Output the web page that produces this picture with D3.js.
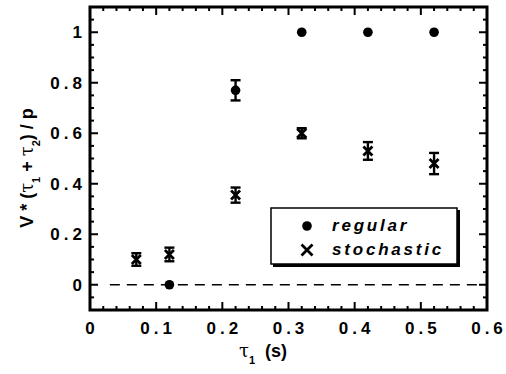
<!DOCTYPE html>
<html>
<head>
<meta charset="utf-8">
<script src="https://cdn.jsdelivr.net/npm/d3@7"></script>
<style>
body { margin: 0; background: #fff; }
svg text { font-family: "Liberation Sans", Arial, sans-serif; font-weight: bold; fill: #000; }
</style>
</head>
<body>
<div class="chart"></div>
<script>
const width = 506, height = 374;
const m = { top: 7, right: 19, bottom: 64, left: 90 };

// data
const regX = [0.12, 0.22, 0.32, 0.42, 0.52];
const regY = [0, 0.77, 1, 1, 1];
const regErr = [0, 0.04, 0, 0, 0];
const stoX = [0.07, 0.12, 0.22, 0.32, 0.42, 0.52];
const stoY = [0.10, 0.12, 0.355, 0.60, 0.53, 0.48];
const stoErr = [0.025, 0.027, 0.03, 0.02, 0.035, 0.042];
const xTicks = [0, 0.1, 0.2, 0.3, 0.4, 0.5, 0.6];
const yTicks = [0, 0.2, 0.4, 0.6, 0.8, 1];
const legendLabels = ["regular", "stochastic"];

const svg = d3.select(".chart").append("svg")
    .attr("width", width).attr("height", height);

const x = d3.scaleLinear().domain([0, 0.6]).range([m.left, width - m.right]);
const y = d3.scaleLinear().domain([-0.1, 1.1]).range([height - m.bottom, m.top]);

const x0 = x.range()[0], x1 = x.range()[1];
const y0 = y.range()[0], y1 = y.range()[1];

// minor ticks
const xMinor = d3.range(0, 0.6001, 0.02);
const yMinor = d3.range(-0.1, 1.1001, 0.05);

const tk = svg.append("g").attr("stroke", "#000").attr("stroke-width", 2);
xMinor.forEach(function(v){
    let major = xTicks.some(t => Math.abs(t - v) < 1e-6);
    let L = major ? 8 : 4;
    tk.append("line").attr("x1", x(v)).attr("x2", x(v)).attr("y1", y0).attr("y2", y0 - L);
    tk.append("line").attr("x1", x(v)).attr("x2", x(v)).attr("y1", y1).attr("y2", y1 + L);
});
yMinor.forEach(function(v){
    let major = yTicks.some(t => Math.abs(t - v) < 1e-6);
    let L = major ? 8 : 4;
    tk.append("line").attr("y1", y(v)).attr("y2", y(v)).attr("x1", x0).attr("x2", x0 + L);
    tk.append("line").attr("y1", y(v)).attr("y2", y(v)).attr("x1", x1).attr("x2", x1 - L);
});

// frame
svg.append("rect")
    .attr("x", x0).attr("y", y1)
    .attr("width", x1 - x0).attr("height", y0 - y1)
    .attr("fill", "none").attr("stroke", "#000").attr("stroke-width", 3);

// tick labels
svg.selectAll(".xl").data(xTicks).enter().append("text")
    .attr("x", d => x(d) + 2).attr("y", 334)
    .attr("text-anchor", "middle").attr("font-size", 17)
    .attr("letter-spacing", 4)
    .text(d => d === 0 ? "0" : d3.format(".1f")(d));
svg.selectAll(".yl").data(yTicks).enter().append("text")
    .attr("x", 86).attr("y", d => y(d) + 6)
    .attr("text-anchor", "end").attr("font-size", 17)
    .attr("letter-spacing", 4)
    .text(d => (d === 0 || d === 1) ? String(d) : d3.format(".1f")(d));

// axis titles
const xt = svg.append("text").attr("x", 263).attr("y", 357)
    .attr("text-anchor", "middle").attr("font-size", 18);
xt.append("tspan").attr("font-weight", "normal").attr("font-family", "DejaVu Serif").text("τ");
xt.append("tspan").attr("font-size", 11).attr("dy", 7).text("1");
xt.append("tspan").attr("dy", -7).text("\u00a0\u00a0(s)");

const yt = svg.append("text")
    .attr("transform", "translate(33,168) rotate(-90)")
    .attr("text-anchor", "middle").attr("font-size", 18);
yt.append("tspan").text("V * (");
yt.append("tspan").attr("font-weight", "normal").attr("font-family", "DejaVu Serif").text("τ");
yt.append("tspan").attr("font-size", 11).attr("dy", 7).text("1");
yt.append("tspan").attr("dy", -7).text(" + ");
yt.append("tspan").attr("font-weight", "normal").attr("font-family", "DejaVu Serif").text("τ");
yt.append("tspan").attr("font-size", 11).attr("dy", 7).text("2");
yt.append("tspan").attr("dy", -7).text(") / p");

// dashed zero line
svg.append("line")
    .attr("x1", x(0.03)).attr("x2", x1 - 6)
    .attr("y1", y(0)).attr("y2", y(0))
    .attr("stroke", "#000").attr("stroke-width", 1.3)
    .attr("stroke-dasharray", "10,7");

// error bars
function errBars(xs, ys, es){
    const g = svg.append("g").attr("stroke", "#000").attr("stroke-width", 2.4);
    for(let i = 0; i < xs.length; i++){
        if(es[i] <= 0) continue;
        let cx = x(xs[i]), top = y(ys[i] + es[i]), bot = y(ys[i] - es[i]);
        g.append("line").attr("x1", cx).attr("x2", cx).attr("y1", top).attr("y2", bot);
        g.append("line").attr("x1", cx - 5).attr("x2", cx + 5).attr("y1", top).attr("y2", top);
        g.append("line").attr("x1", cx - 5).attr("x2", cx + 5).attr("y1", bot).attr("y2", bot);
    }
}
errBars(regX, regY, regErr);
errBars(stoX, stoY, stoErr);

function cross(g, cx, cy, s){
    g.append("path")
        .attr("d", `M${cx - s},${cy - s}L${cx + s},${cy + s}M${cx - s},${cy + s}L${cx + s},${cy - s}`)
        .attr("stroke", "#000").attr("stroke-width", 2.8).attr("fill", "none");
}

svg.selectAll(".reg").data(regX).enter().append("circle")
    .attr("cx", d => x(d)).attr("cy", (d, i) => y(regY[i]))
    .attr("r", 4.8).attr("fill", "#000");

const gs = svg.append("g");
stoX.forEach((d, i) => cross(gs, x(d), y(stoY[i]), 4.5));

// legend
const lg = svg.append("g");
lg.append("rect").attr("x", 273).attr("y", 210).attr("width", 187).attr("height", 57).attr("fill", "#000");
lg.append("rect").attr("x", 271).attr("y", 208).attr("width", 186).attr("height", 56)
    .attr("fill", "#fff").attr("stroke", "#000").attr("stroke-width", 1.5);
lg.append("circle").attr("cx", 307).attr("cy", 226).attr("r", 4.8).attr("fill", "#000");
cross(lg, 307, 250, 5.5);
lg.selectAll(".lt").data(legendLabels).enter().append("text")
    .attr("x", 332).attr("y", (d, i) => 231 + i * 24)
    .attr("font-size", 17).attr("font-style", "italic").attr("letter-spacing", 2.8)
    .text(d => d);
</script>
</body>
</html>
